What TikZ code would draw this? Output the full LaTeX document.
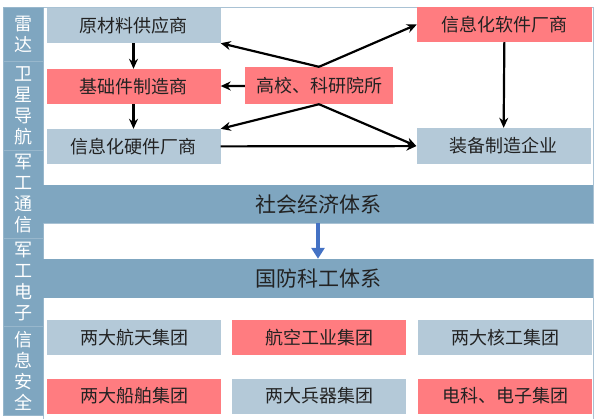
\documentclass[tikz,border=0pt]{standalone}
\usepackage{fontspec}
\setmainfont{Noto Sans CJK SC}
\usetikzlibrary{arrows.meta}
\definecolor{hui}{HTML}{B4C9D8}
\definecolor{hong}{HTML}{FF7C80}
\definecolor{lan}{HTML}{7FA6C0}
\definecolor{bian}{HTML}{A9C2D4}
\definecolor{jian}{HTML}{4472C4}
\definecolor{zi}{HTML}{222222}

\tikzset{
	box/.style = {minimum width=174pt, minimum height=35pt, inner sep=0pt, text=zi,
		font=\fontsize{18}{18}\selectfont},
	hbox/.style = {box, fill=hui},
	rbox/.style = {box, fill=hong},
	band/.style = {fill=lan, minimum width=550pt, minimum height=38pt, inner sep=0pt,
		text=zi, font=\fontsize{21}{21}\selectfont},
	side/.style = {fill=lan, draw=bian!60!lan, line width=0.8pt, minimum width=40pt,
		inner sep=0pt, text=white, align=center, font=\fontsize{18}{21}\selectfont},
	arr/.style = {-{Stealth[length=10pt,width=9pt]}, line width=2.2pt}
}

\begin{document}
\begin{tikzpicture}[x=1pt,y=-1pt]
	\useasboundingbox (0,0) rectangle (600,418);

	\draw[bian, line width=0.8pt] (43,7) rectangle (593,223);
	\draw[bian, line width=0.8pt] (43,259) rectangle (593,420);

	\node[side, minimum height=54pt] (s1) at (23,34) {雷\\达};
	\node[side, minimum height=89pt] (s2) at (23,105.5) {卫\\星\\导\\航};
	\node[side, minimum height=88pt] (s3) at (23,194) {军\\工\\通\\信};
	\node[side, minimum height=88pt] (s4) at (23,282) {军\\工\\电\\子};
	\node[side, minimum height=89pt] (s5) at (23,370.5) {信\\息\\安\\全};

	\node[hbox] (yl) at (133.5,25.5) {原材料供应商};
	\node[rbox] (jc) at (133.5,86.5) {基础件制造商};
	\node[hbox] (yj) at (133.5,146.5) {信息化硬件厂商};
	\node[rbox, minimum width=148pt, minimum height=37pt] (gx) at (319,85.5) {高校、科研院所};
	\node[rbox, minimum width=175pt] (rj) at (504.5,24.5) {信息化软件厂商};
	\node[hbox, minimum height=36pt] (zb) at (503.5,146) {装备制造企业};

	\node[band] (sh) at (318,204) {社会经济体系};
	\node[band, minimum height=39pt] (gf) at (318,278.5) {国防科工体系};

	\node[hbox] (ht) at (134,337.5) {两大航天集团};
	\node[rbox] (hk) at (319,337.5) {航空工业集团};
	\node[hbox] (hg) at (505,337.5) {两大核工集团};
	\node[rbox] (cb) at (134,396) {两大船舶集团};
	\node[hbox] (bq) at (319,396) {两大兵器集团};
	\node[rbox] (dz) at (505,396) {电科、电子集团};

	\draw[arr] (yl) -- (jc);
	\draw[arr] (jc) -- (yj);
	\draw[arr] (gx) -- (jc);
	\draw[arr] (gx.north) -- (yl.south east);
	\draw[arr] (gx.north) -- (rj.west);
	\draw[arr] (gx.south) -- (yj.north east);
	\draw[arr] (gx.south) -- (zb.west);
	\draw[arr] (yj) -- (zb);
	\draw[arr] (rj) -- (zb);
	\draw[-{Triangle[length=11pt,width=13pt]}, jian, line width=3.5pt] (sh) -- (gf);
\end{tikzpicture}
\end{document}
